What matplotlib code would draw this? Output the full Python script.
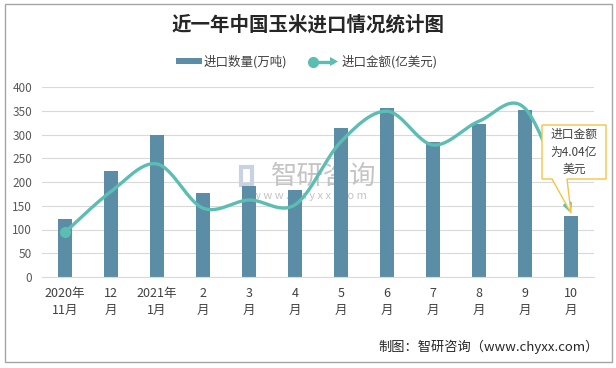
import numpy as np
import matplotlib
matplotlib.use('Agg')
import matplotlib.pyplot as plt
from matplotlib.patches import Rectangle, Polygon
from matplotlib.lines import Line2D

plt.rcParams['font.family'] = ['Noto Sans CJK SC', 'DejaVu Sans']

# ---------------- data ----------------
categories = ['2020年\n11月', '12\n月', '2021年\n1月', '2\n月', '3\n月', '4\n月',
              '5\n月', '6\n月', '7\n月', '8\n月', '9\n月', '10\n月']
volume = [122, 224, 300, 177, 192, 184, 314, 356, 284, 323, 352, 129]          # 万吨
amount = [2.82, 5.40, 7.14, 4.35, 4.86, 4.56, 8.55, 10.47, 8.34, 9.84, 10.65, 4.04]  # 亿美元
yticks = [0, 50, 100, 150, 200, 250, 300, 350, 400]
title = '近一年中国玉米进口情况统计图'
legend_labels = ['进口数量(万吨)', '进口金额(亿美元)']
callout_text = '进口金额\n为4.04亿\n美元'
footer = '制图：智研咨询（www.chyxx.com）'

bar_color = '#5b8ea6'
line_color = '#5cbdb2'
text_color = '#404040'

W, H = 616, 368
fig = plt.figure(figsize=(W / 100, H / 100), dpi=100)
fig.patch.set_facecolor('white')


def fx(px):
    return px / W


def fy(py):
    return 1 - py / H


# outer frame
fig.add_artist(Rectangle((fx(5), fy(362)), fx(612) - fx(5), fy(4) - fy(362),
                         transform=fig.transFigure, fill=False,
                         edgecolor='#a6a6a6', lw=1.0, zorder=0))

ax = fig.add_axes([fx(42), fy(277), (594 - 42) / W, (277 - 87) / H])
x = np.arange(len(categories))
ax.bar(x, volume, width=0.3, color=bar_color, zorder=2)
ax.set_xlim(-0.5, len(categories) - 0.5)
ax.set_ylim(0, 400)
ax.set_yticks(yticks)
ax.grid(axis='y', color='#d9d9d9', lw=0.8, zorder=0)
ax.set_axisbelow(True)
for s in ['top', 'right', 'left']:
    ax.spines[s].set_visible(False)
ax.spines['bottom'].set_color('#d9d9d9')
ax.set_xticks(x)
ax.set_xticklabels(categories, fontsize=9, color=text_color, linespacing=1.45)
ax.tick_params(axis='x', length=0, pad=7)
ax.tick_params(axis='y', length=0, pad=7, labelsize=8.5, labelcolor='#595959')

# watermark
ax.text(fx(324), fy(176), '智研咨询', transform=fig.transFigure, ha='center', va='center',
        fontsize=19, color='#c4c4c4', zorder=1)
ax.text(fx(309), fy(196), ' '.join('www.chyxx.com'), transform=fig.transFigure,
        ha='center', va='center', fontsize=8, color='#c4c4c4', zorder=1)
ax.add_artist(Rectangle((fx(241), fy(185)), fx(11), fy(167) - fy(185), transform=fig.transFigure,
                        fill=False, edgecolor='#c9d2e3', lw=3, zorder=1))

# secondary (hidden) axis for amount
ax2 = ax.twinx()
ax2.set_ylim(0, 12)
ax2.axis('off')


def smooth(xs, ys, n=30):
    P = np.column_stack([xs, ys]).astype(float)
    P = np.vstack([P[0], P, P[-1]])
    out = []
    t = np.linspace(0, 1, n)[:, None]
    for i in range(1, len(P) - 2):
        p0, p1, p2, p3 = P[i - 1], P[i], P[i + 1], P[i + 2]
        b1 = p1 + (p2 - p0) / 6
        b2 = p2 - (p3 - p1) / 6
        seg = (1 - t) ** 3 * p1 + 3 * (1 - t) ** 2 * t * b1 + 3 * (1 - t) * t ** 2 * b2 + t ** 3 * p2
        out.append(seg if i == 1 else seg[1:])
    return np.vstack(out)


curve = smooth(x, amount)
ax2.plot(curve[:-4, 0], curve[:-4, 1], color=line_color, lw=2.4, solid_capstyle='round', zorder=3)
ax2.plot([x[0]], [amount[0]], 'o', ms=7, color=line_color, zorder=4)
ax2.annotate('', xy=(x[-1], amount[-1]), xytext=(curve[-6, 0], curve[-6, 1]),
             arrowprops=dict(arrowstyle='-|>', color=line_color, lw=2.2,
                             mutation_scale=11, shrinkA=0, shrinkB=0), zorder=4)

# callout
fig.canvas.draw()
tip_disp = ax2.transData.transform((x[-1], amount[-1]))
tip_fig = fig.transFigure.inverted().transform(tip_disp)
pts = [(fx(542), fy(125)), (fx(606), fy(125)), (fx(606), fy(179)), (fx(567), fy(179)),
       tuple(tip_fig), (fx(552), fy(179)), (fx(542), fy(179))]
fig.add_artist(Polygon(pts, closed=True, transform=fig.transFigure, facecolor='white',
                       edgecolor='#f5c342', lw=1.0, zorder=10))
fig.text(fx(574), fy(152), callout_text, ha='center', va='center', fontsize=8.5,
         linespacing=1.45, color=text_color, zorder=11)

# title
fig.text(0.5, fy(25), title, ha='center', va='center', fontsize=14,
         fontweight='bold', color='#262626')

# legend
fig.add_artist(Rectangle((fx(176), fy(64)), fx(26), fy(58) - fy(64), transform=fig.transFigure,
                         facecolor=bar_color, edgecolor='none'))
fig.text(fx(204), fy(61.5), legend_labels[0], ha='left', va='center', fontsize=9, color=text_color)
fig.add_artist(Line2D([fx(313), fx(332)], [fy(61.5), fy(61.5)], transform=fig.transFigure,
                      color=line_color, lw=2.4))
fig.add_artist(Line2D([fx(313)], [fy(61.5)], transform=fig.transFigure, marker='o', ms=7,
                      color=line_color, lw=0))
fig.add_artist(Polygon([(fx(330), fy(57)), (fx(338), fy(61.5)), (fx(330), fy(66))],
                       closed=True, transform=fig.transFigure, facecolor=line_color,
                       edgecolor='none'))
fig.text(fx(342), fy(61.5), legend_labels[1], ha='left', va='center', fontsize=9, color=text_color)

# footer
fig.text(fx(599), fy(347), footer, ha='right', va='center', fontsize=9.5, color='#262626')

fig.savefig('out.png', dpi=100, facecolor='white')
